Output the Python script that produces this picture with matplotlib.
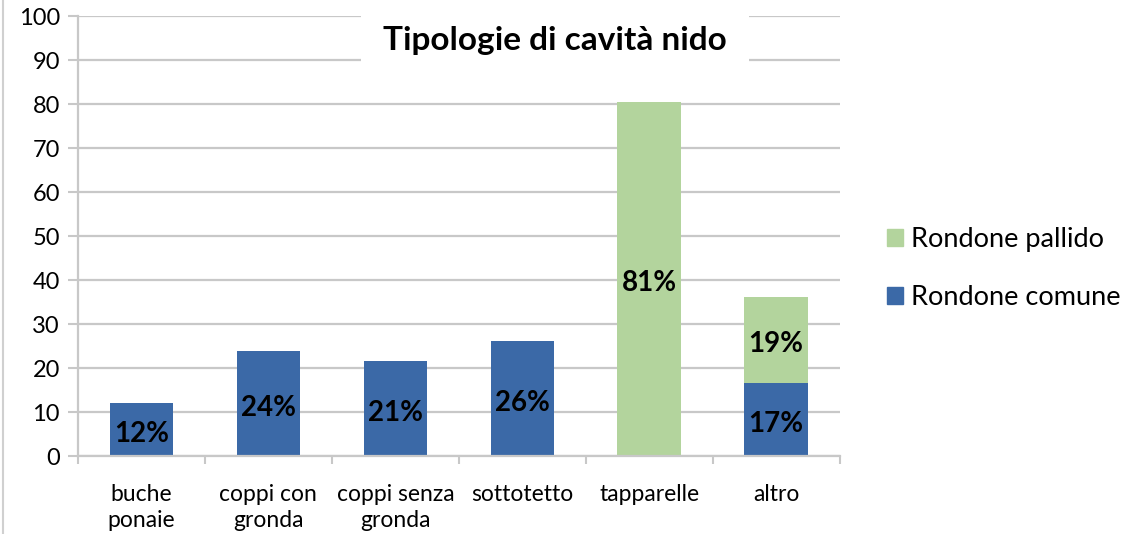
import numpy as np
import matplotlib.pyplot as plt
import matplotlib
from matplotlib.patches import Patch

matplotlib.rcParams.update({'font.family': ['Lato', 'DejaVu Sans'], 'font.size': 17})

categories = ['buche\nponaie', 'coppi con\ngronda', 'coppi senza\ngronda',
              'sottotetto', 'tapparelle', 'altro']
comune = [12, 23.9, 21.6, 26.1, 0, 16.6]
pallido = [0, 0, 0, 0, 80.5, 19.5]
comune_labels = ['12%', '24%', '21%', '26%', '', '17%']
pallido_labels = ['', '', '', '', '81%', '19%']

blue = '#3B69A7'
green = '#B3D49D'
grid_c = '#C8C8C8'

fig = plt.figure(figsize=(11.47, 5.34), dpi=100)
ax = fig.add_axes([0.068, 0.146, 0.664, 0.824])

x = np.arange(len(categories))
ax.bar(x, comune, width=0.5, color=blue, zorder=3)
ax.bar(x, pallido, width=0.5, bottom=comune, color=green, zorder=3)

# etichette dei dati al centro dei segmenti
for i in range(len(x)):
    if comune_labels[i]:
        ax.text(x[i], comune[i] / 2 - 1.0, comune_labels[i], ha='center', va='center',
                fontsize=20, fontweight='bold', zorder=4)
    if pallido_labels[i]:
        ax.text(x[i], comune[i] + pallido[i] / 2 - 1.0, pallido_labels[i], ha='center',
                va='center', fontsize=20, fontweight='bold', zorder=4)

ax.set_xlim(-0.5, len(categories) - 0.5)
ax.set_ylim(0, 100)
ax.set_yticks(np.arange(0, 101, 10))
ax.set_xticks(x)
ax.set_xticklabels(categories, linespacing=1.3, fontsize=16.5)
ax.set_xticks(np.arange(-0.5, len(categories), 1), minor=True)
ax.tick_params(axis='x', which='major', length=0, pad=20)
ax.tick_params(axis='x', which='minor', length=6, color=grid_c, width=1.5)
ax.tick_params(axis='y', length=7, color=grid_c, width=1.5, pad=6)
ax.yaxis.grid(True, color=grid_c, linewidth=1.6, zorder=0)

for s in ['top', 'right']:
    ax.spines[s].set_visible(False)
for s in ['left', 'bottom']:
    ax.spines[s].set_color(grid_c)
    ax.spines[s].set_linewidth(1.6)
ax.spines['bottom'].set_zorder(5)

# titolo su sfondo bianco (copre la griglia)
fig.text(0.484, 0.925, 'Tipologie di cavità nido', ha='center', va='center',
         fontsize=24, fontweight='bold',
         bbox=dict(facecolor='white', edgecolor='none', pad=16))

handles = [Patch(color=green, label='Rondone pallido'),
           Patch(color=blue, label='Rondone comune')]
fig.legend(handles=handles, loc='center left', bbox_to_anchor=(0.752, 0.497),
           frameon=False, fontsize=19.5, handlelength=0.6, handleheight=0.6,
           handletextpad=0.3, labelspacing=1.2)

# bordo sinistro dell'immagine
fig.add_artist(plt.Line2D([0.003, 0.003], [0, 1], color='#D0D0D0', lw=1.5))

fig.savefig('out.png', dpi=100)
